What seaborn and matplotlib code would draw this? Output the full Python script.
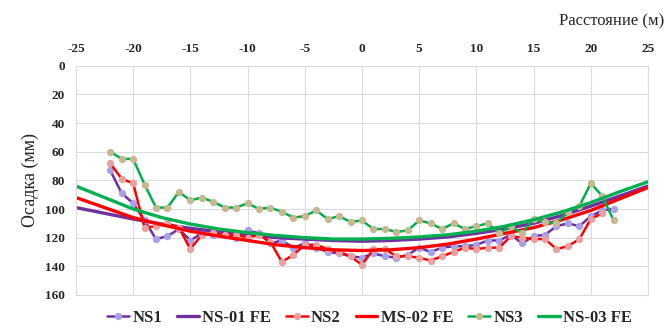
import matplotlib
matplotlib.use("Agg")
import matplotlib.pyplot as plt
import seaborn as sns
import numpy as np
import pandas as pd

# Measured settlement (mm) at 1 m spacing
ns1_x = list(range(-22, 23))
ns1_y = [73, 89, 96, 108, 121, 119, 114, 122, 117, 118, 118, 120, 115, 117, 124,
         122, 127, 124, 127, 130, 131, 133, 134, 131, 133, 134, 132, 127, 130, 127,
         126, 126, 125, 122, 122, 118, 124, 119, 118, 112, 110, 112, 105, 101, 100]

ns2_x = list(range(-22, 22))
ns2_y = [68, 79, 82, 113, 112, 110, 113, 128, 118, 117, 118, 118, 120, 118, 123,
         137, 132, 125, 125, 128, 130, 133, 139, 128, 128, 133, 133, 134, 136, 133,
         130, 127, 128, 127, 127, 119, 120, 121, 121, 128, 126, 121, 107, 103]

ns3_x = list(range(-22, 23))
ns3_y = [60, 65, 65, 83, 99, 99, 88, 94, 92, 95, 99, 99, 96, 100, 99,
         102, 106, 105, 101, 107, 105, 109, 108, 114, 114, 116, 115, 108, 110, 114,
         110, 114, 112, 110, 117, 112, 117, 107, 109, 110, 102, 98, 82, 91, 108]

# FE model curves
fe_x = [-25, -22.5, -20, -17.5, -15, -12.5, -10, -7.5, -5, -2.5, 0,
        2.5, 5, 7.5, 10, 12.5, 15, 17.5, 20, 22.5, 25]
fe1_y = [99, 103, 107, 110.5, 113.5, 116, 118, 120, 121, 122, 122.5,
         122, 121, 119.5, 117, 114, 110, 104.5, 98, 91, 84]
fe2_y = [92, 99, 106, 111, 115.5, 119, 122, 125, 127, 128.5, 129,
         128.5, 127, 124.5, 121, 117, 113, 107.5, 101, 93, 85]
fe3_y = [84, 92, 100, 106, 110.5, 114, 116.5, 118.5, 120, 121, 121,
         120.5, 119.5, 118, 115.5, 112, 107.5, 102, 95.5, 88, 81]

x_ticks = list(range(-25, 30, 5))
y_ticks = list(range(0, 180, 20))

sns.set_style("whitegrid")
plt.rcParams['font.family'] = ['Liberation Serif', 'DejaVu Serif']
plt.rcParams['axes.unicode_minus'] = False

fig = plt.figure(figsize=(6.66, 3.34), dpi=100)
ax = fig.add_axes([0.114, 0.117, 0.859, 0.686])

purple = '#7030A0'
red = '#FF0000'
green = '#00B050'

sns.lineplot(x=ns1_x, y=ns1_y, ax=ax, color=purple, lw=1.8, marker='o', markersize=4.5,
             markerfacecolor='#a8a0e8', markeredgecolor='#a8a0e8', label='NS1')
sns.lineplot(x=fe_x, y=fe1_y, ax=ax, color=purple, lw=2.4, label='NS-01 FE')
sns.lineplot(x=ns2_x, y=ns2_y, ax=ax, color=red, lw=1.8, marker='o', markersize=4.5,
             markerfacecolor='#e8a0a0', markeredgecolor='#e8a0a0', label='NS2')
sns.lineplot(x=fe_x, y=fe2_y, ax=ax, color=red, lw=2.4, label='MS-02 FE')
sns.lineplot(x=ns3_x, y=ns3_y, ax=ax, color=green, lw=1.8, marker='o', markersize=4.5,
             markerfacecolor='#c8b890', markeredgecolor='#c8b890', label='NS3')
sns.lineplot(x=fe_x, y=fe3_y, ax=ax, color=green, lw=2.4, label='NS-03 FE')

ax.set_xlim(-25, 25)
ax.set_ylim(160, 0)
ax.set_xticks(x_ticks)
ax.set_yticks(y_ticks)
ax.xaxis.tick_top()
ax.tick_params(axis='both', length=0, pad=8, labelsize=9.5)
for lab in ax.get_xticklabels() + ax.get_yticklabels():
    lab.set_fontweight('bold')
ax.grid(color='#dcdcdc', lw=0.8)
for s in ax.spines.values():
    s.set_color('#dcdcdc')
    s.set_linewidth(0.8)

ax.set_xlabel('')
ax.set_ylabel('Осадка (мм)', fontsize=13, labelpad=4)
fig.text(0.998, 0.935, 'Расстояние (м)', ha='right', va='center', fontsize=12)

ax.legend_.remove()
handles, labels = ax.get_legend_handles_labels()
fig.legend(handles, labels, loc='center', bbox_to_anchor=(0.555, 0.047), ncol=6,
           frameon=False, handlelength=1.3, handletextpad=0.2, columnspacing=0.9,
           prop={'weight': 'bold', 'size': 12})

fig.savefig('out.png', dpi=100)
